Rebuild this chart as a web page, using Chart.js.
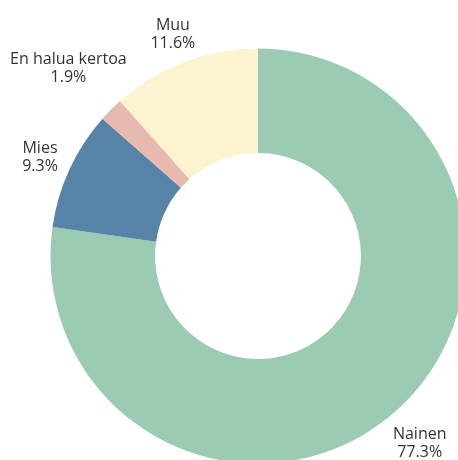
<!DOCTYPE html>
<html>
<head>
<meta charset="utf-8">
<script src="https://cdn.jsdelivr.net/npm/chart.js@4/dist/chart.umd.min.js"></script>
<style>
    html, body { margin: 0; padding: 0; background: #fff; overflow: hidden; }
    canvas { display: block; }
</style>
</head>
<body>
<canvas id="chart" width="458" height="460"></canvas>
<script>
    const labels = ['Nainen', 'Mies', 'En halua kertoa', 'Muu'];
    const values = [77.3, 9.3, 1.9, 11.6];
    const colors = ['#9ccbb4', '#5883a9', '#e8b9af', '#fdf3d0'];

    // labels outside the ring: push each text box out along the slice
    // middle until its closest point is a small gap away from the ring
    const outsideLabels = {
        id: 'outsideLabels',
        afterDatasetsDraw(chart) {
            const ctx = chart.ctx;
            const meta = chart.getDatasetMeta(0);
            const gap = 10;
            const capH = 12;
            const lineH = 18;
            ctx.save();
            ctx.font = '16px "Open Sans", "Noto Sans", sans-serif';
            ctx.fillStyle = '#333333';
            ctx.textAlign = 'center';
            ctx.textBaseline = 'alphabetic';
            meta.data.forEach((arc, i) => {
                const p = arc.getProps(['x', 'y', 'startAngle', 'endAngle', 'outerRadius'], true);
                const mid = (p.startAngle + p.endAngle) / 2;
                const line1 = labels[i];
                const line2 = values[i].toFixed(1) + '%';
                const w = Math.max(ctx.measureText(line1).width, ctx.measureText(line2).width);
                const h = capH + lineH;
                let d = p.outerRadius;
                let cx, cy;
                for (let k = 0; k < 400; k++) {
                    cx = p.x + Math.cos(mid) * d;
                    cy = p.y + Math.sin(mid) * d;
                    const nx = Math.min(Math.max(p.x, cx - w / 2), cx + w / 2);
                    const ny = Math.min(Math.max(p.y, cy - h / 2), cy + h / 2);
                    if (Math.hypot(nx - p.x, ny - p.y) >= p.outerRadius + gap) break;
                    d += 0.5;
                }
                const top = cy - h / 2;
                ctx.fillText(line1, cx, top + capH);
                ctx.fillText(line2, cx, top + capH + lineH);
            });
            ctx.restore();
        }
    };

    new Chart(document.getElementById('chart').getContext('2d'), {
        type: 'doughnut',
        data: {
            labels: labels,
            datasets: [{
                data: values,
                backgroundColor: colors,
                borderWidth: 0,
                clip: false
            }]
        },
        options: {
            responsive: false,
            animation: false,
            radius: 207.5,
            cutout: '49.6%',
            layout: { padding: { left: 58, top: 52 } },
            plugins: {
                legend: { display: false },
                tooltip: { enabled: false }
            }
        },
        plugins: [outsideLabels]
    });
</script>
</body>
</html>
